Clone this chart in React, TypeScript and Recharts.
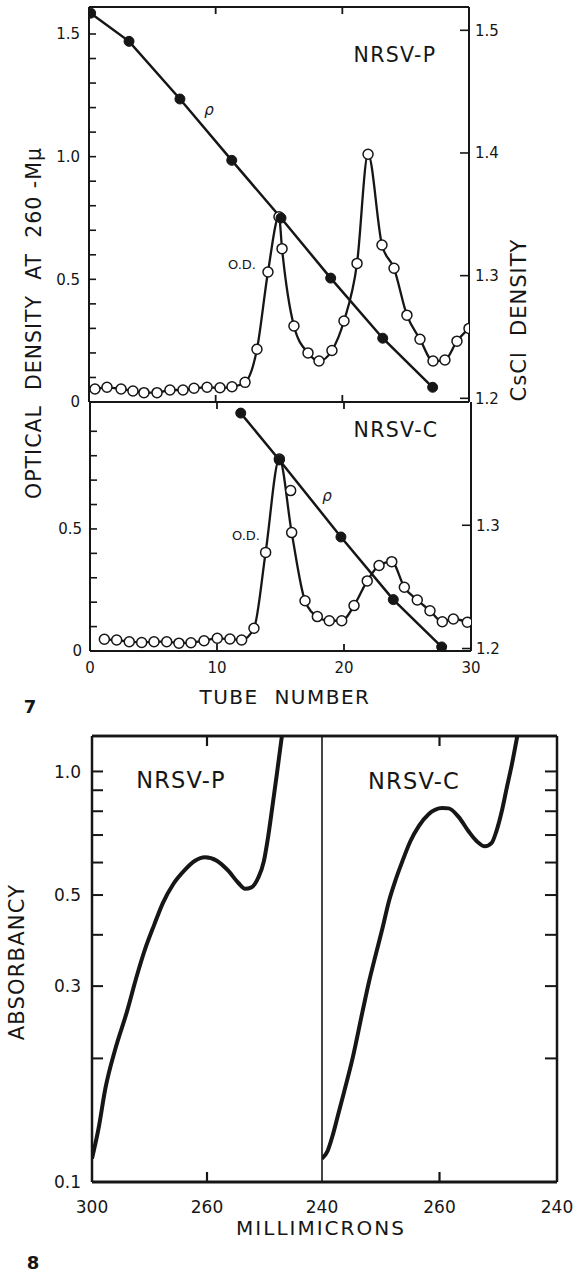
import React from 'react';
import { ComposedChart, Line, XAxis, YAxis, ReferenceLine } from 'recharts';

const INK = '#161616';
const FONT = '"DejaVu Sans", "Liberation Sans", sans-serif';

// ---------- Figure 7 : CsCl gradients ----------
// NRSV-P (upper panel)
const tubeOdP = [0.47, 1.42, 2.53, 3.47, 4.34, 5.37, 6.39, 7.42, 8.29, 9.32, 10.34, 11.29, 12.32, 13.26, 14.13, 15.0, 15.24, 16.18, 17.29, 18.16, 19.18, 20.13, 21.16, 22.03, 23.13, 24.08, 25.1, 26.13, 27.16, 28.1, 29.05, 30.0];
const odP = [0.053, 0.06, 0.053, 0.045, 0.038, 0.038, 0.049, 0.049, 0.056, 0.06, 0.058, 0.062, 0.08, 0.215, 0.53, 0.755, 0.625, 0.31, 0.2, 0.167, 0.21, 0.33, 0.565, 1.01, 0.64, 0.545, 0.354, 0.256, 0.167, 0.171, 0.248, 0.3];
const tubeRhoP = [0.13, 3.16, 7.18, 11.27, 15.16, 19.08, 23.19, 27.13];
const rhoP = [1.514, 1.491, 1.444, 1.394, 1.347, 1.298, 1.249, 1.209];

// NRSV-C (lower panel)
const tubeOdC = [1.13, 2.1, 3.09, 4.07, 5.04, 6.04, 7.0, 7.95, 8.98, 10.02, 11.02, 11.94, 12.91, 13.83, 14.91, 15.88, 16.93, 17.9, 18.84, 19.82, 20.79, 21.83, 22.76, 23.76, 24.75, 25.77, 26.77, 27.74, 28.61, 29.71];
const odC = [0.048, 0.045, 0.038, 0.035, 0.038, 0.038, 0.032, 0.034, 0.042, 0.052, 0.049, 0.045, 0.093, 0.404, 0.786, 0.485, 0.206, 0.141, 0.124, 0.124, 0.186, 0.287, 0.35, 0.366, 0.261, 0.209, 0.165, 0.12, 0.131, 0.118];
const tubeOdCExtra = [15.8];
const odCExtra = [0.657];
const tubeRhoC = [11.87, 14.91, 19.76, 23.88, 27.69];
const rhoC = [1.391, 1.353, 1.2905, 1.2397, 1.2013];

// ---------- Figure 8 : absorption spectra ----------
const specPnm = [300, 296.9, 293.8, 289.6, 284.8, 281.1, 278.1, 275.0, 272.2, 269.0, 265.7, 263.0, 260.5, 257.7, 255.2, 253.1, 251.8, 250.6, 249.4, 248.4, 247.7, 247.0, 246.2, 245.5, 245.0];
const specPabs = [0.114, 0.135, 0.169, 0.21, 0.26, 0.317, 0.369, 0.423, 0.478, 0.532, 0.576, 0.606, 0.618, 0.606, 0.573, 0.535, 0.518, 0.522, 0.55, 0.604, 0.689, 0.815, 1.0, 1.21, 1.4];
const specCnm = [300, 297.4, 295.1, 293.0, 290.2, 286.8, 283.0, 280.6, 278.3, 276.0, 273.9, 271.8, 269.8, 267.5, 265.2, 262.6, 259.4, 257.9, 255.7, 253.7, 252.1, 250.6, 249.4, 248.6, 247.7, 246.9, 246.1, 245.4, 244.6];
const specCabs = [0.114, 0.119, 0.13, 0.144, 0.166, 0.2, 0.26, 0.308, 0.357, 0.415, 0.483, 0.545, 0.604, 0.676, 0.736, 0.788, 0.815, 0.813, 0.774, 0.715, 0.676, 0.657, 0.67, 0.715, 0.8, 0.912, 1.04, 1.19, 1.4];

// axis domains, tick values / labels
const odDomainP = [0, 1.61];
const rhoDomainP = [1.197, 1.519];
const odDomainC = [0, 1.02];
const rhoDomainC = [1.198, 1.4];
const absDomain = [0.1, 1.22];
const odTicksP = [0, 0.1, 0.2, 0.3, 0.4, 0.5, 0.6, 0.7, 0.8, 0.9, 1.0, 1.1, 1.2, 1.3, 1.4, 1.5, 1.61];
const odLabelsP: [number, string][] = [[0, '0'], [0.5, '0.5'], [1, '1.0'], [1.5, '1.5']];
const rhoTicksP = [1.2, 1.3, 1.4, 1.5];
const rhoLabelsP: [number, string][] = [[1.2, '1.2'], [1.3, '1.3'], [1.4, '1.4'], [1.5, '1.5']];
const odTicksC = [0, 0.1, 0.2, 0.3, 0.4, 0.5, 0.6, 0.7, 0.8, 0.9];
const odLabelsC: [number, string][] = [[0, '0'], [0.5, '0.5']];
const rhoTicksC = [1.2, 1.3];
const rhoLabelsC: [number, string][] = [[1.2, '1.2'], [1.3, '1.3']];
const tubeTicks = [0, 10, 20, 30];
const tubeLabels: [number, string][] = [[0, '0'], [10, '10'], [20, '20'], [30, '30']];
const absTicks = [0.1, 0.2, 0.3, 0.4, 0.5, 0.6, 0.7, 0.8, 0.9, 1.0, 1.22];
const absLabels: [number, string][] = [[1.0, '1.0'], [0.5, '0.5'], [0.3, '0.3'], [0.1, '0.1']];
const nmTicksLeft = [300, 260, 240];
const nmTicksRight = [260, 240];

// The spectrophotometer wavelength scale is non-linear (prism dispersion):
// it is reproduced with a log scale of (wavelength - 220).
const NM_OFFSET = 220;
const nmKey = (d: { nm: number }) => d.nm - NM_OFFSET;

const zip = (xs: number[], ys: number[], k: string, yk: string) => xs.map((x, i) => ({ [k]: x, [yk]: ys[i] }));
const odPData = zip(tubeOdP, odP, 't', 'v');
const rhoPData = zip(tubeRhoP, rhoP, 't', 'rho');
const odCData = zip(tubeOdC, odC, 't', 'v');
const odCExtraData = zip(tubeOdCExtra, odCExtra, 't', 'v');
const rhoCData = zip(tubeRhoC, rhoC, 't', 'rho');
const specP = zip(specPnm, specPabs, 'nm', 'a');
const specC = zip(specCnm, specCabs, 'nm', 'a');

const lab = (pairs: [number, string][]) => (v: number) => {
  const p = pairs.find((q) => Math.abs(q[0] - v) < 1e-6);
  return p ? p[1] : '';
};
const none = (_v: number) => '';

// Left-axis tick: inward mark + label; at the domain maximum it draws the top frame of the panel.
function makeLeftTick(len: number, gap: number, fmt: (v: number) => string, fs: number, lw: number, topValue: number, plotW: number, frameW: number) {
  return function LeftTick(props: any) {
    const { x, y, payload } = props;
    const v = payload.value;
    const isTop = Math.abs(v - topValue) < 1e-6;
    const txt = fmt(v);
    return (
      <g>
        {isTop ? (
          <line x1={x} y1={y} x2={x + plotW} y2={y} stroke={INK} strokeWidth={frameW} />
        ) : len > 0 ? (
          <line x1={x} y1={y} x2={x + len} y2={y} stroke={INK} strokeWidth={lw} />
        ) : null}
        {txt ? <text x={x - gap} y={y} dy="0.36em" textAnchor="end" fontSize={fs} fontFamily={FONT} fill={INK}>{txt}</text> : null}
      </g>
    );
  };
}

function makeRightTick(len: number, gap: number, fmt: (v: number) => string, fs: number, lw: number, skip: number) {
  return function RightTick(props: any) {
    const { x, y, payload } = props;
    const v = payload.value;
    if (Math.abs(v - skip) < 1e-6) return <g />;
    const txt = fmt(v);
    return (
      <g>
        {len > 0 ? <line x1={x} y1={y} x2={x - len} y2={y} stroke={INK} strokeWidth={lw} /> : null}
        {txt ? <text x={x + gap} y={y} dy="0.36em" textAnchor="start" fontSize={fs} fontFamily={FONT} fill={INK}>{txt}</text> : null}
      </g>
    );
  };
}

// Bottom-axis tick: inward mark on the bottom frame, matching mark on the top frame, label below.
function makeBottomTick(len: number, gap: number, fmt: (v: number) => string, fs: number, lw: number, plotH: number, marked: (v: number) => boolean) {
  return function BottomTick(props: any) {
    const { x, y, payload } = props;
    const v = payload.value;
    const txt = fmt(v);
    const m = marked(v);
    return (
      <g>
        {m ? <line x1={x} y1={y} x2={x} y2={y - len} stroke={INK} strokeWidth={lw} /> : null}
        {m ? <line x1={x} y1={y - plotH} x2={x} y2={y - plotH + len} stroke={INK} strokeWidth={lw} /> : null}
        {txt ? <text x={x} y={y + gap} dy="0.72em" textAnchor="middle" fontSize={fs} fontFamily={FONT} fill={INK}>{txt}</text> : null}
      </g>
    );
  };
}

const frame = (w: number) => ({ stroke: INK, strokeWidth: w });
const openDot = { r: 5, fill: '#fff', stroke: INK, strokeWidth: 1.5 };
const fullDot = { r: 5, fill: INK, stroke: INK, strokeWidth: 1 };
const innerTube = (v: number) => v > 0 && v < 30;

const tickTopB = makeBottomTick(7, 10, none, 15, 1.8, 395, innerTube);
const tickTopL = makeLeftTick(7, 9, lab(odLabelsP), 15, 1.6, odDomainP[1], 380, 2.2);
const tickTopR = makeRightTick(9, 6, lab(rhoLabelsP), 15, 1.6, -1);
const tickBotB = makeBottomTick(7, 11, lab(tubeLabels), 15, 1.8, 249, innerTube);
const tickBotL = makeLeftTick(7, 8, lab(odLabelsC), 15, 1.6, -1, 0, 0);
const tickBotR = makeRightTick(9, 5, lab(rhoLabelsC), 15, 1.6, -1);

function Fig7Top() {
  return (
    <ComposedChart width={577} height={422} margin={{ top: 7, right: 0, bottom: 0, left: 0 }}>
      <XAxis xAxisId="b" dataKey="t" type="number" domain={[0, 30]} allowDataOverflow ticks={tubeTicks} interval={0}
        tickSize={0} tickMargin={0} tickLine={false} axisLine={frame(2)} height={20} tick={tickTopB} />
      <YAxis yAxisId="l" type="number" domain={odDomainP} allowDataOverflow ticks={odTicksP} interval={0} width={89}
        tickSize={0} tickMargin={0} tickLine={false} axisLine={frame(2)} tick={tickTopL} />
      <YAxis yAxisId="r" orientation="right" type="number" domain={rhoDomainP} allowDataOverflow ticks={rhoTicksP} interval={0} width={108}
        tickSize={0} tickMargin={0} tickLine={false} axisLine={frame(2)} tick={tickTopR} />
      <ReferenceLine xAxisId="b" yAxisId="l" y={odDomainP[1]} stroke={INK} strokeWidth={2.2} ifOverflow="visible" />
      <Line data={odPData} xAxisId="b" yAxisId="l" dataKey="v" type="monotone" stroke={INK} strokeWidth={2.3}
        dot={openDot} activeDot={false} isAnimationActive={false} />
      <Line data={rhoPData} xAxisId="b" yAxisId="r" dataKey="rho" type="linear" stroke={INK} strokeWidth={2.5}
        dot={fullDot} activeDot={false} isAnimationActive={false} />
    </ComposedChart>
  );
}

function Fig7Bottom() {
  return (
    <ComposedChart width={577} height={300} margin={{ top: 0, right: 0, bottom: 0, left: 0 }}>
      <XAxis xAxisId="b" dataKey="t" type="number" domain={[0, 30]} allowDataOverflow ticks={tubeTicks} interval={0}
        tickSize={0} tickMargin={0} tickLine={false} axisLine={frame(2)} height={51} tick={tickBotB} />
      <YAxis yAxisId="l" type="number" domain={odDomainC} allowDataOverflow ticks={odTicksC} interval={0} width={90}
        tickSize={0} tickMargin={0} tickLine={false} axisLine={frame(2)} tick={tickBotL} />
      <YAxis yAxisId="r" orientation="right" type="number" domain={rhoDomainC} allowDataOverflow ticks={rhoTicksC} interval={0} width={106}
        tickSize={0} tickMargin={0} tickLine={false} axisLine={frame(2)} tick={tickBotR} />
      <Line data={odCData} xAxisId="b" yAxisId="l" dataKey="v" type="monotone" stroke={INK} strokeWidth={2.3}
        dot={openDot} activeDot={false} isAnimationActive={false} />
      <Line data={odCExtraData} xAxisId="b" yAxisId="l" dataKey="v" stroke="none"
        dot={openDot} activeDot={false} isAnimationActive={false} />
      <Line data={rhoCData} xAxisId="b" yAxisId="r" dataKey="rho" type="linear" stroke={INK} strokeWidth={2.5}
        dot={fullDot} activeDot={false} isAnimationActive={false} />
    </ComposedChart>
  );
}

const nmFmt = (v: number) => String(Math.round(v + NM_OFFSET));
const nmT = (arr: number[]) => arr.map((n) => n - NM_OFFSET);
const innerNm = (v: number) => Math.abs(v - 40) < 1e-6;
const tickNmB = makeBottomTick(10, 19, nmFmt, 17, 2.2, 446, innerNm);
const tickAbsL = makeLeftTick(11, 11, lab(absLabels), 17, 2, absDomain[1], 230, 2.4);
const tickAbsD = makeLeftTick(0, 0, none, 17, 2, absDomain[1], 235, 2.4);
const tickAbsR = makeRightTick(12, 6, none, 17, 2, absDomain[1]);

function Fig8Left() {
  return (
    <ComposedChart width={577} height={530} margin={{ top: 36, right: 255, bottom: 0, left: 0 }}>
      <XAxis xAxisId="b" dataKey={nmKey} type="number" scale="log" reversed domain={[20, 80]} allowDataOverflow
        ticks={nmT(nmTicksLeft)} interval={0} tickSize={0} tickMargin={0} tickLine={false} axisLine={frame(3)} height={48}
        tick={tickNmB} />
      <YAxis yAxisId="l" type="number" scale="log" domain={absDomain} allowDataOverflow ticks={absTicks} interval={0} width={92}
        tickSize={0} tickMargin={0} tickLine={false} axisLine={frame(2.5)} tick={tickAbsL} />
      <ReferenceLine xAxisId="b" yAxisId="l" y={absDomain[1]} stroke={INK} strokeWidth={2.4} ifOverflow="visible" />
      <Line data={specP} xAxisId="b" yAxisId="l" dataKey="a" type="monotone" stroke={INK} strokeWidth={4}
        dot={false} activeDot={false} isAnimationActive={false} />
    </ComposedChart>
  );
}

function Fig8Right() {
  return (
    <ComposedChart width={577} height={530} margin={{ top: 36, right: 0, bottom: 0, left: 0 }}>
      <XAxis xAxisId="b" dataKey={nmKey} type="number" scale="log" reversed domain={[20, 80]} allowDataOverflow
        ticks={nmT(nmTicksRight)} interval={0} tickSize={0} tickMargin={0} tickLine={false} axisLine={frame(3)} height={48}
        tick={tickNmB} />
      <YAxis yAxisId="d" type="number" scale="log" domain={absDomain} allowDataOverflow ticks={absTicks} interval={0} width={322}
        tickSize={0} tickMargin={0} tickLine={false} axisLine={frame(1.6)} tick={tickAbsD} />
      <YAxis yAxisId="r" orientation="right" type="number" scale="log" domain={absDomain} allowDataOverflow ticks={absTicks} interval={0} width={20}
        tickSize={0} tickMargin={0} tickLine={false} axisLine={frame(2.5)} tick={tickAbsR} />
      <ReferenceLine xAxisId="b" yAxisId="r" y={absDomain[1]} stroke={INK} strokeWidth={2.4} ifOverflow="visible" />
      <Line data={specC} xAxisId="b" yAxisId="r" dataKey="a" type="monotone" stroke={INK} strokeWidth={4}
        dot={false} activeDot={false} isAnimationActive={false} />
    </ComposedChart>
  );
}

function Labels() {
  const t = { fontFamily: FONT, fill: INK } as const;
  return (
    <svg width={577} height={1277} style={{ position: 'absolute', left: 0, top: 0, pointerEvents: 'none' }}>
      <text {...t} transform="translate(34,323) rotate(-90)" textAnchor="middle" dominantBaseline="central" fontSize={20.5}
        letterSpacing={1} style={{ whiteSpace: 'pre' }}>{'OPTICAL  DENSITY  AT  260 -M\u03BC'}</text>
      <text {...t} transform="translate(519,320) rotate(-90)" textAnchor="middle" dominantBaseline="central" fontSize={21}
        letterSpacing={1} style={{ whiteSpace: 'pre' }}>{'CsCl  DENSITY'}</text>
      <text {...t} x={395} y={55} textAnchor="middle" dominantBaseline="central" fontSize={20.5} letterSpacing={1.3}>NRSV-P</text>
      <text {...t} x={396} y={430} textAnchor="middle" dominantBaseline="central" fontSize={20.5} letterSpacing={1.3}>NRSV-C</text>
      <text {...t} x={242} y={264} textAnchor="middle" dominantBaseline="central" fontSize={13}>O.D.</text>
      <text {...t} x={246} y={535} textAnchor="middle" dominantBaseline="central" fontSize={13}>O.D.</text>
      <text {...t} x={209} y={110} textAnchor="middle" dominantBaseline="central" fontSize={15} fontStyle="italic">{'\u03C1'}</text>
      <text {...t} x={327} y={496} textAnchor="middle" dominantBaseline="central" fontSize={15} fontStyle="italic">{'\u03C1'}</text>
      <text {...t} x={285} y={697} textAnchor="middle" dominantBaseline="central" fontSize={20} letterSpacing={1.5}
        style={{ whiteSpace: 'pre' }}>{'TUBE  NUMBER'}</text>
      <text {...t} x={30} y={706} textAnchor="middle" dominantBaseline="central" fontSize={18} fontWeight="bold">7</text>
      <text {...t} x={181} y={780} textAnchor="middle" dominantBaseline="central" fontSize={22.5} letterSpacing={1.2}>NRSV-P</text>
      <text {...t} x={414} y={781} textAnchor="middle" dominantBaseline="central" fontSize={22.5} letterSpacing={1.2}>NRSV-C</text>
      <text {...t} transform="translate(17,962) rotate(-90)" textAnchor="middle" dominantBaseline="central" fontSize={21}
        letterSpacing={1.2}>ABSORBANCY</text>
      <text {...t} x={321} y={1228} textAnchor="middle" dominantBaseline="central" fontSize={20} letterSpacing={2}>MILLIMICRONS</text>
      <text {...t} x={33} y={1262} textAnchor="middle" dominantBaseline="central" fontSize={18} fontWeight="bold">8</text>
    </svg>
  );
}

export default function App() {
  return (
    <div style={{ position: 'absolute', left: 0, top: 0, width: 577, height: 1277, background: '#fff', fontFamily: FONT }}>
      <Labels />
      <div style={{ position: 'absolute', left: 0, top: 0 }}><Fig7Top /></div>
      <div style={{ position: 'absolute', left: 0, top: 402 }}><Fig7Bottom /></div>
      <div style={{ position: 'absolute', left: 0, top: 700 }}><Fig8Left /></div>
      <div style={{ position: 'absolute', left: 0, top: 700 }}><Fig8Right /></div>
    </div>
  );
}
